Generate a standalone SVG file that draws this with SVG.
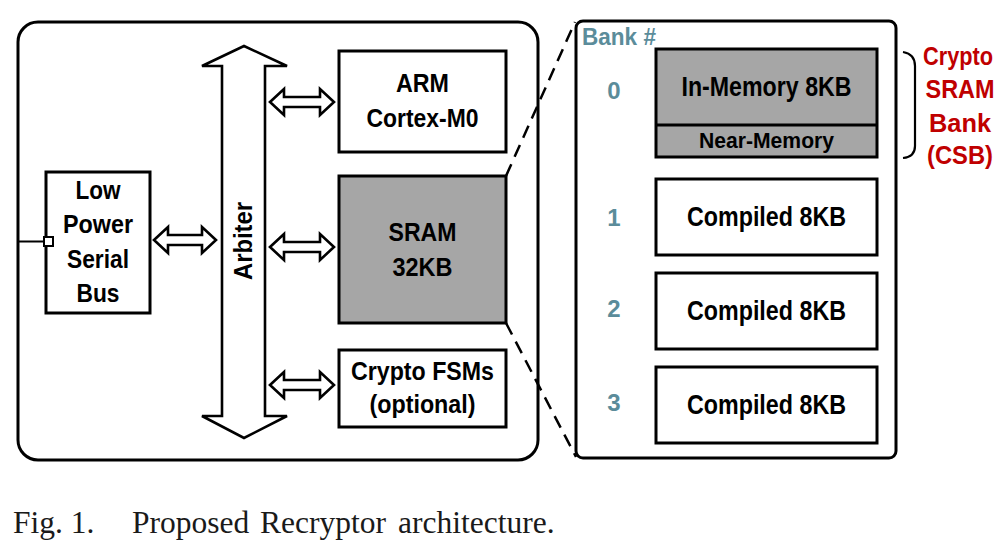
<svg xmlns="http://www.w3.org/2000/svg" width="1004" height="547" viewBox="0 0 1004 547">
<style>
.box{fill:#fff;stroke:#000;stroke-width:3}
.gray{fill:#a6a6a6;stroke:#000;stroke-width:3}
.arr{fill:#fff;stroke:#000;stroke-width:2.6;stroke-linejoin:miter}
.t{font-family:"Liberation Sans",Arial,sans-serif;font-weight:bold;fill:#000;text-anchor:middle}
.bank{font-family:"Liberation Sans",Arial,sans-serif;font-weight:bold;fill:#5b8c9a;text-anchor:middle}
.csb{font-family:"Liberation Sans",Arial,sans-serif;font-weight:bold;fill:#c00000;text-anchor:middle;font-size:26px}
.dash{fill:none;stroke:#000;stroke-width:2.5;stroke-dasharray:13 8}
.cap{font-family:"Liberation Serif","Times New Roman",serif;font-size:31.5px;fill:#1a1a1a}
</style>
<rect width="1004" height="547" fill="#fff"/>
<g id="outer-chip"><rect x="18" y="22" width="520" height="438" rx="20" ry="20" fill="none" stroke="#000" stroke-width="3"/></g>
<g id="lpsb">
<line x1="18" y1="241.5" x2="44" y2="241.5" stroke="#000" stroke-width="2"/>
<rect class="box" x="46" y="172" width="104" height="141"/>
<rect x="44" y="237" width="9" height="9" fill="#fff" stroke="#000" stroke-width="2"/>
<text class="t" font-size="25" x="98" y="199" textLength="45" lengthAdjust="spacingAndGlyphs">Low</text>
<text class="t" font-size="25" x="98" y="233" textLength="70" lengthAdjust="spacingAndGlyphs">Power</text>
<text class="t" font-size="25" x="98" y="268" textLength="62" lengthAdjust="spacingAndGlyphs">Serial</text>
<text class="t" font-size="25" x="98" y="302" textLength="43" lengthAdjust="spacingAndGlyphs">Bus</text>
</g>
<g id="arbiter">
<path class="arr" stroke-width="3" d="M244,46 L287,66 L265,66 L265,416 L287,416 L244,438 L202,416 L222,416 L222,66 L202,66 Z"/>
<text class="t" font-size="25" transform="translate(252,241) rotate(-90)" x="0" y="0" textLength="78" lengthAdjust="spacingAndGlyphs">Arbiter</text>
</g>
<g id="arm">
<rect class="box" x="339" y="51" width="167" height="101"/>
<text class="t" font-size="26" x="422.5" y="92" textLength="53" lengthAdjust="spacingAndGlyphs">ARM</text>
<text class="t" font-size="26" x="422.5" y="127" textLength="112" lengthAdjust="spacingAndGlyphs">Cortex-M0</text>
</g>
<g id="sram">
<rect class="gray" x="339" y="176" width="167" height="147"/>
<text class="t" font-size="26" x="422.5" y="241" textLength="68" lengthAdjust="spacingAndGlyphs">SRAM</text>
<text class="t" font-size="26" x="422.5" y="276" textLength="60" lengthAdjust="spacingAndGlyphs">32KB</text>
</g>
<g id="crypto-fsms">
<rect class="box" x="339" y="350" width="167" height="77"/>
<text class="t" font-size="26" x="422.5" y="380" textLength="143" lengthAdjust="spacingAndGlyphs">Crypto FSMs</text>
<text class="t" font-size="26" x="422.5" y="413" textLength="106" lengthAdjust="spacingAndGlyphs">(optional)</text>
</g>
<g id="sram-detail">
<rect x="576" y="21" width="320" height="437" rx="7" ry="7" fill="#fff" stroke="#000" stroke-width="3"/>
<text class="bank" font-size="23" x="619" y="45" textLength="74" lengthAdjust="spacingAndGlyphs">Bank #</text>
<text class="bank" font-size="24" x="614" y="99">0</text>
<text class="bank" font-size="24" x="614" y="226">1</text>
<text class="bank" font-size="24" x="614" y="317">2</text>
<text class="bank" font-size="24" x="614" y="411">3</text>
</g>
<g id="bank0">
<rect class="gray" x="656" y="49" width="221" height="108"/>
<line x1="656" y1="125" x2="877" y2="125" stroke="#000" stroke-width="3"/>
<text class="t" font-size="27" x="766.5" y="96" textLength="170" lengthAdjust="spacingAndGlyphs">In-Memory 8KB</text>
<text class="t" font-size="22" x="766.5" y="148" textLength="135" lengthAdjust="spacingAndGlyphs">Near-Memory</text>
</g>
<g id="bank1">
<rect class="box" x="656" y="179" width="221" height="76"/>
<text class="t" font-size="27" x="766.5" y="226" textLength="159" lengthAdjust="spacingAndGlyphs">Compiled 8KB</text>
</g>
<g id="bank2">
<rect class="box" x="656" y="273" width="221" height="76"/>
<text class="t" font-size="27" x="766.5" y="320" textLength="159" lengthAdjust="spacingAndGlyphs">Compiled 8KB</text>
</g>
<g id="bank3">
<rect class="box" x="656" y="367" width="221" height="76"/>
<text class="t" font-size="27" x="766.5" y="414" textLength="159" lengthAdjust="spacingAndGlyphs">Compiled 8KB</text>
</g>
<g id="csb-label">
<path d="M903,52 Q915,54 915,66 L915,146 Q915,157 903,158" fill="none" stroke="#000" stroke-width="2.2"/>
<text class="csb" font-size="25" style="font-size:25px" x="958" y="65" textLength="70" lengthAdjust="spacingAndGlyphs">Crypto</text>
<text class="csb" x="960" y="98" textLength="69" lengthAdjust="spacingAndGlyphs">SRAM</text>
<text class="csb" x="960" y="132" textLength="62" lengthAdjust="spacingAndGlyphs">Bank</text>
<text class="csb" x="960" y="164" textLength="66" lengthAdjust="spacingAndGlyphs">(CSB)</text>
</g>
<g id="connectors">
<path class="arr" d="M154,240 L168,227 L168,235 L202,235 L202,227 L216,240 L202,253 L202,245 L168,245 L168,253 Z"/>
<path class="arr" d="M270,102 L284,89 L284,97 L320,97 L320,89 L334,102 L320,115 L320,107 L284,107 L284,115 Z"/>
<path class="arr" d="M270,247 L284,234 L284,242 L320,242 L320,234 L334,247 L320,260 L320,252 L284,252 L284,260 Z"/>
<path class="arr" d="M270,385 L284,372 L284,380 L320,380 L320,372 L334,385 L320,398 L320,390 L284,390 L284,398 Z"/>
<line class="dash" x1="506" y1="176" x2="575" y2="22"/>
<line class="dash" x1="506" y1="323" x2="576" y2="457"/>
</g>
<g id="caption">
<text class="cap" x="13" y="533">Fig. 1.</text>
<text class="cap" x="132" y="533">Proposed</text>
<text class="cap" x="260" y="533">Recryptor</text>
<text class="cap" x="398" y="533">architecture.</text>
</g>
</svg>
